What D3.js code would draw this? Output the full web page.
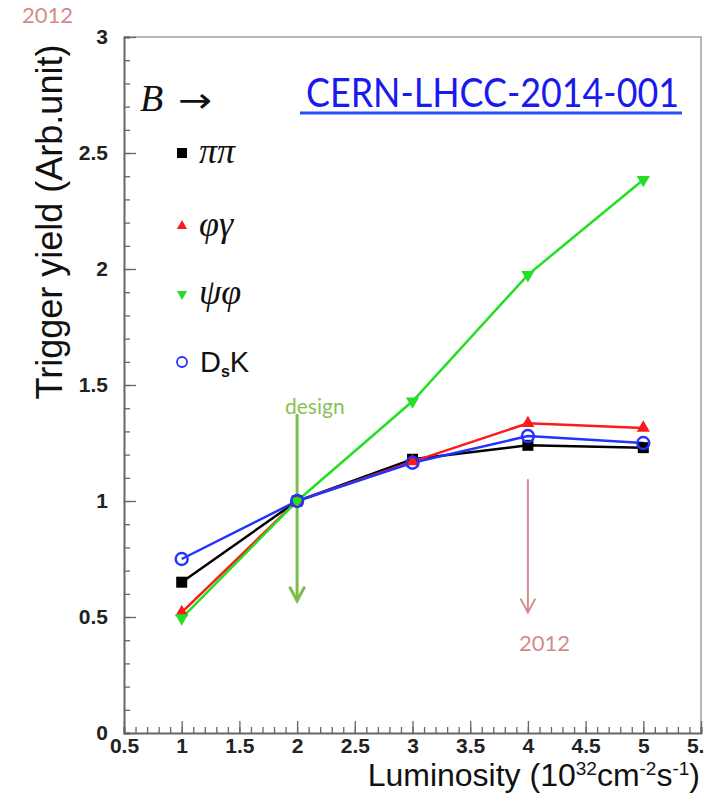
<!DOCTYPE html>
<html>
<head>
<meta charset="utf-8">
<script src="https://cdn.jsdelivr.net/npm/d3@7"></script>
<style>
  html, body { margin: 0; padding: 0; background: #fff; }
  svg { display: block; }
</style>
</head>
<body>
<svg id="chart" width="704" height="796"></svg>
<script>
// Luminosity points (10^32 cm^-2 s^-1)
const luminosity = [1, 2, 3, 4, 5];

// Relative trigger yield per decay channel
const yieldPiPi   = [0.65, 1.00, 1.18, 1.24, 1.23];
const yieldPhiGam = [0.52, 1.00, 1.17, 1.335, 1.315];
const yieldPsiPhi = [0.495, 1.00, 1.43, 1.975, 2.385];
const yieldDsK    = [0.75, 1.00, 1.165, 1.28, 1.25];

const xTickLabels = ["0.5", "1", "1.5", "2", "2.5", "3", "3.5", "4", "4.5", "5", "5.5"];
const yTickLabels = ["0", "0.5", "1", "1.5", "2", "2.5", "3"];

const channels = [
  { name: "pipi",   values: yieldPiPi,   color: "#000000", marker: "square" },
  { name: "phigam", values: yieldPhiGam, color: "#ff1a1a", marker: "up" },
  { name: "psiphi", values: yieldPsiPhi, color: "#22e022", marker: "down" },
  { name: "dsk",    values: yieldDsK,    color: "#2233ff", marker: "circle" }
];

const svg = d3.select("#chart");
const x = d3.scaleLinear().domain([0.5, 5.5]).range([124, 701]);
const y = d3.scaleLinear().domain([0, 3]).range([733, 37]);

const axisFont = "'Liberation Sans', Arial, sans-serif";

// Frame (top and right edges)
svg.append("path")
  .attr("d", `M${x(0.5)},${y(3)}H${x(5.5)}V${y(0)}`)
  .attr("fill", "none").attr("stroke", "#b8b8b8").attr("stroke-width", 2);

// Y axis: minor and major ticks drawn inward
const yMinor = d3.range(0, 30.01, 1).map(v => v / 10);
svg.append("g").attr("transform", `translate(${x(0.5)},0)`)
  .call(d3.axisLeft(y).tickValues(yMinor).tickSize(-6).tickFormat(""))
  .call(g => g.selectAll("line").attr("stroke", "#666").attr("stroke-width", 1.3))
  .call(g => g.select(".domain").attr("stroke", "#666").attr("stroke-width", 2));
svg.append("g").attr("transform", `translate(${x(0.5)},0)`)
  .call(d3.axisLeft(y).tickValues(yTickLabels.map(Number)).tickSize(-12).tickPadding(16)
    .tickFormat((d, i) => yTickLabels[i]))
  .call(g => g.select(".domain").remove())
  .call(g => g.selectAll("line").attr("stroke", "#666").attr("stroke-width", 1.3))
  .call(g => g.selectAll("text").attr("font-family", axisFont).attr("font-size", 21)
    .attr("fill", "#222").attr("font-weight", "bold"));

// X axis
const xMinor = d3.range(5, 55.01, 1).map(v => v / 10);
svg.append("g").attr("transform", `translate(0,${y(0)})`)
  .call(d3.axisBottom(x).tickValues(xMinor).tickSize(-6).tickFormat(""))
  .call(g => g.selectAll("line").attr("stroke", "#666").attr("stroke-width", 1.3))
  .call(g => g.select(".domain").attr("stroke", "#666").attr("stroke-width", 2));
svg.append("g").attr("transform", `translate(0,${y(0)})`)
  .call(d3.axisBottom(x).tickValues(xTickLabels.map(Number)).tickSize(-12).tickPadding(5)
    .tickFormat((d, i) => xTickLabels[i]))
  .call(g => g.select(".domain").remove())
  .call(g => g.selectAll("line").attr("stroke", "#666").attr("stroke-width", 1.3))
  .call(g => g.selectAll("text").attr("font-family", axisFont).attr("font-size", 21)
    .attr("fill", "#222").attr("font-weight", "bold"));

// Axis titles
svg.append("text")
  .attr("transform", `translate(62,222) rotate(-90)`)
  .attr("text-anchor", "middle")
  .attr("font-family", axisFont).attr("font-size", 36).attr("fill", "#111")
  .text("Trigger yield (Arb.unit)");

const xt = svg.append("text")
  .attr("x", 700).attr("y", 786).attr("text-anchor", "end")
  .attr("font-family", axisFont).attr("font-size", 32).attr("fill", "#111");
xt.append("tspan").text("Luminosity (10");
xt.append("tspan").attr("dy", -11).attr("font-size", 19).text("32");
xt.append("tspan").attr("dy", 11).text("cm");
xt.append("tspan").attr("dy", -11).attr("font-size", 19).text("-2");
xt.append("tspan").attr("dy", 11).text("s");
xt.append("tspan").attr("dy", -11).attr("font-size", 19).text("-1");
xt.append("tspan").attr("dy", 11).text(")");

// Annotation arrows
function downArrow(xv, y0, y1, color, width) {
  const g = svg.append("g").attr("stroke", color).attr("stroke-width", width)
    .attr("fill", "none").attr("stroke-linecap", "round");
  g.append("line").attr("x1", xv).attr("x2", xv).attr("y1", y0).attr("y2", y1);
  g.append("path").attr("d", `M${xv - 7},${y1 - 13}L${xv},${y1}L${xv + 7},${y1 - 13}`);
}
downArrow(x(2), y(1.37), y(0.57), "#7dbd4c", 3);
downArrow(x(4), y(1.09), y(0.52), "#d58a8c", 2);

const noteFont = "Lato, 'Open Sans', sans-serif";
svg.append("text").attr("x", 285).attr("y", 414)
  .attr("font-family", noteFont).attr("font-size", 21).attr("fill", "#86c254").text("design");
svg.append("text").attr("x", 519).attr("y", 651)
  .attr("font-family", noteFont).attr("font-size", 22).attr("fill", "#d58a8c").text("2012");
svg.append("text").attr("x", 22).attr("y", 23)
  .attr("font-family", noteFont).attr("font-size", 22).attr("fill", "#d58a8c").text("2012");

// Lines
const line = d3.line().x((d, i) => x(luminosity[i])).y(d => y(d));
channels.forEach(c => {
  svg.append("path").datum(c.values)
    .attr("d", line).attr("fill", "none")
    .attr("stroke", c.color).attr("stroke-width", 2.5);
});

// Markers
function drawMarker(g, type, color, cx, cy) {
  if (type === "square") {
    g.append("rect").attr("x", cx - 5.5).attr("y", cy - 5.5).attr("width", 11).attr("height", 11)
      .attr("fill", color);
  } else if (type === "up") {
    g.append("path").attr("d", d3.symbol(d3.symbolTriangle, 75)()).attr("transform", `translate(${cx},${cy})`)
      .attr("fill", color);
  } else if (type === "down") {
    g.append("path").attr("d", d3.symbol(d3.symbolTriangle, 75)())
      .attr("transform", `translate(${cx},${cy}) rotate(180)`).attr("fill", color);
  } else {
    g.append("circle").attr("cx", cx).attr("cy", cy).attr("r", 6)
      .attr("fill", "none").attr("stroke", color).attr("stroke-width", 2.4);
  }
}
channels.forEach(c => {
  const g = svg.append("g");
  c.values.forEach((v, i) => drawMarker(g, c.marker, c.color, x(luminosity[i]), y(v)));
});

// Legend
const serif = "'Liberation Serif', 'Times New Roman', serif";
svg.append("text").attr("x", 140).attr("y", 111)
  .attr("font-family", serif).attr("font-style", "italic").attr("font-size", 38).attr("fill", "#111")
  .text("B");
svg.append("text").attr("x", 178).attr("y", 112)
  .attr("font-family", "'DejaVu Sans', sans-serif").attr("font-size", 34).attr("fill", "#111")
  .attr("textLength", 34).attr("lengthAdjust", "spacingAndGlyphs").text("\u2192");

const legendRows = [
  { marker: "square", color: "#000000", y: 153, label: "\u03c0\u03c0" },
  { marker: "up",     color: "#ff1a1a", y: 226, label: "\u03c6\u03b3" },
  { marker: "down",   color: "#22e022", y: 294, label: "\u03c8\u03c6" },
  { marker: "circle", color: "#2233ff", y: 362, label: null }
];
const lg = svg.append("g");
legendRows.forEach(r => {
  if (r.marker === "circle") {
    lg.append("circle").attr("cx", 182).attr("cy", r.y).attr("r", 5)
      .attr("fill", "none").attr("stroke", r.color).attr("stroke-width", 1.8);
  } else if (r.marker === "square") {
    lg.append("rect").attr("x", 177).attr("y", r.y - 5).attr("width", 10).attr("height", 10).attr("fill", r.color);
  } else {
    lg.append("path").attr("d", d3.symbol(d3.symbolTriangle, 45)())
      .attr("transform", `translate(182,${r.y})${r.marker === "down" ? " rotate(180)" : ""}`)
      .attr("fill", r.color);
  }
  if (r.label) {
    lg.append("text").attr("x", 199).attr("y", r.y + 10)
      .attr("font-family", serif).attr("font-style", "italic").attr("font-size", 36).attr("fill", "#111")
      .text(r.label);
  }
});
const dsk = lg.append("text").attr("x", 200).attr("y", 372)
  .attr("font-family", axisFont).attr("font-size", 29).attr("fill", "#111");
dsk.append("tspan").text("D");
dsk.append("tspan").attr("dy", 5).attr("font-size", 16).attr("font-weight", "bold").text("s");
dsk.append("tspan").attr("dy", -5).text("K");

// Document reference link
svg.append("text").attr("x", 306).attr("y", 107)
  .attr("font-family", noteFont).attr("font-size", 40).attr("fill", "#1a1aee")
  .attr("textLength", 373).attr("lengthAdjust", "spacingAndGlyphs")
  .text("CERN-LHCC-2014-001");
svg.append("line").attr("x1", 300).attr("x2", 682).attr("y1", 113).attr("y2", 113)
  .attr("stroke", "#2a4dff").attr("stroke-width", 3);
</script>
</body>
</html>
